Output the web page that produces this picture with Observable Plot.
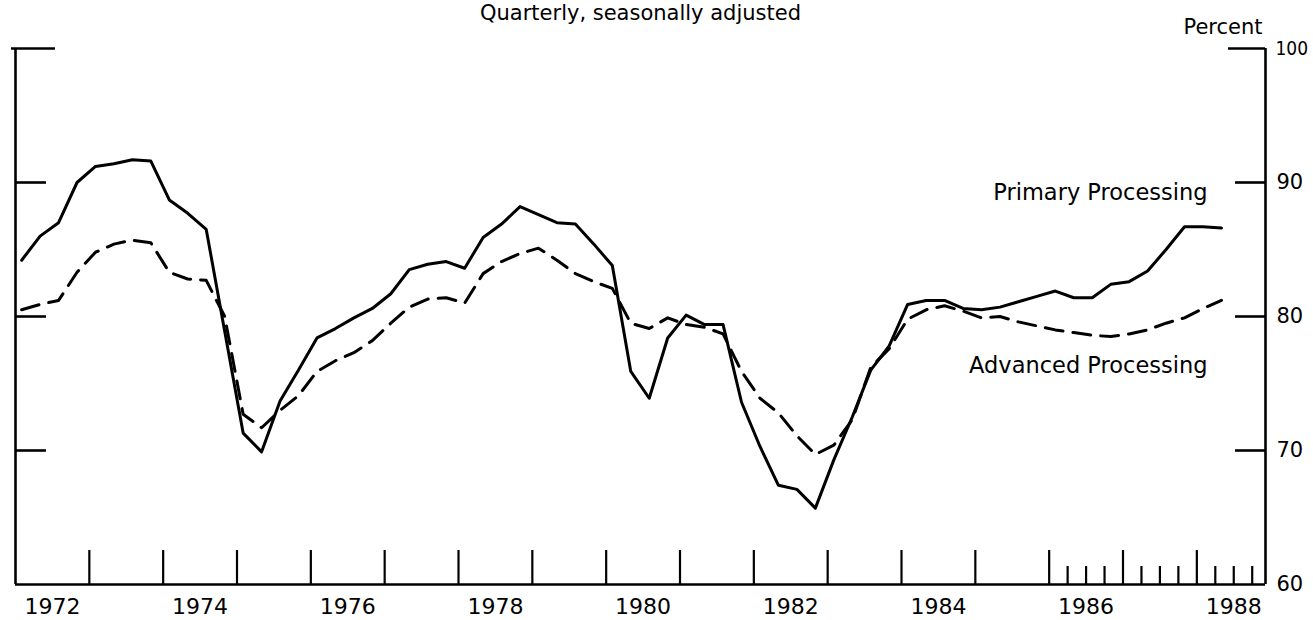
<!DOCTYPE html>
<html><head><meta charset="utf-8">
<script src="https://cdn.jsdelivr.net/npm/d3@7"></script>
<script src="https://cdn.jsdelivr.net/npm/@observablehq/plot@0.6"></script>
<style>body{margin:0;background:#fff;} #chart svg{display:block}</style>
</head><body><div id="chart"></div>
<script>
// Capacity utilization, quarterly, 1972Q1 - 1988Q2 (percent)
const startYear = 1972;
const primary = [
  84.2, 86.0, 87.0, 90.0, 91.2, 91.4, 91.7, 91.6, 88.7, 87.7, 86.5, 78.9,
  71.3, 69.9, 73.7, 76.0, 78.4, 79.1, 79.9, 80.6, 81.7, 83.5, 83.9, 84.1,
  83.6, 85.9, 86.9, 88.2, 87.6, 87.0, 86.9, 85.4, 83.8, 75.9, 73.9, 78.4,
  80.1, 79.4, 79.4, 73.6, 70.3, 67.4, 67.1, 65.7, 69.3, 72.5, 76.0, 77.8,
  80.9, 81.2, 81.2, 80.6, 80.5, 80.7, 81.1, 81.5, 81.9, 81.4, 81.4, 82.4,
  82.6, 83.4, 85.0, 86.7, 86.7, 86.6
];
const advanced = [
  80.5, 80.9, 81.2, 83.3, 84.8, 85.4, 85.7, 85.5, 83.3, 82.8, 82.7, 80.0,
  72.7, 71.7, 73.0, 74.1, 75.9, 76.7, 77.3, 78.2, 79.5, 80.7, 81.3, 81.4,
  81.0, 83.2, 84.1, 84.7, 85.1, 84.2, 83.2, 82.6, 82.1, 79.5, 79.1, 79.9,
  79.4, 79.2, 78.7, 75.9, 73.9, 72.8, 71.1, 69.7, 70.4, 72.3, 76.2, 77.6,
  79.8, 80.5, 80.8, 80.4, 79.9, 80.0, 79.6, 79.3, 79.0, 78.8, 78.6, 78.5,
  78.7, 79.0, 79.5, 79.9, 80.6, 81.2
];
const yearLabels = [1972, 1974, 1976, 1978, 1980, 1982, 1984, 1986, 1988];
const yearTicks = [1973, 1974, 1975, 1976, 1977, 1978, 1979, 1980, 1981, 1982, 1983, 1984, 1985, 1986, 1987, 1988];
const quarterTicks = [1986.25, 1986.5, 1986.75, 1987.25, 1987.5, 1987.75, 1988.25, 1988.5, 1988.75];
const yTickLabels = [90, 80, 70, 60];
const yTopLabel = [100];
const yInnerTicks = [90, 80, 70];
const seriesLabels = [
  {name: "Primary Processing", v: 88.66},
  {name: "Advanced Processing", v: 75.75}
];
const title = "Quarterly, seasonally adjusted";
const unitLabel = "Percent";

// layout
const W = 1313, H = 620;
const mL = 15, mR = 48, mT = 48, mB = 36;
const fw = W - mL - mR, fh = H - mT - mB;
const xEnd = 1988.93;

const when = i => startYear + i / 4 + 1 / 12;
const prim = primary.map((v, i) => ({t: when(i), v}));
const adv = advanced.map((v, i) => ({t: when(i), v}));

const chart = Plot.plot({
  width: W, height: H,
  marginLeft: mL, marginRight: mR, marginTop: mT, marginBottom: mB,
  x: {domain: [startYear, xEnd], axis: null},
  y: {domain: [60, 100], axis: null},
  style: {fontFamily: "DejaVu Sans", color: "#000", background: "#fff"},
  marks: [
    // frame
    Plot.ruleX([startYear, xEnd], {y1: 60, y2: 100, stroke: "#000", strokeWidth: 2.6}),
    Plot.ruleY([60], {stroke: "#000", strokeWidth: 2.6}),
    // left inner ticks
    Plot.tickY(yInnerTicks, {y: d => d, insetRight: fw - 31, stroke: "#000", strokeWidth: 2.6}),
    Plot.tickY([100], {y: d => d, insetLeft: -4, insetRight: fw - 40, stroke: "#000", strokeWidth: 2.6}),
    // right inner ticks
    Plot.tickY(yInnerTicks, {y: d => d, insetLeft: fw - 30, stroke: "#000", strokeWidth: 2.6}),
    Plot.tickY([100], {y: d => d, insetLeft: fw - 37, stroke: "#000", strokeWidth: 2.6}),
    // bottom ticks
    Plot.tickX(yearTicks, {x: d => d, insetTop: fh - 34, stroke: "#000", strokeWidth: 2.2}),
    Plot.tickX(quarterTicks, {x: d => d, insetTop: fh - 18, stroke: "#000", strokeWidth: 2.2}),
    // tick labels
    Plot.text(yearLabels, {x: d => d + 0.5, text: d => String(d), frameAnchor: "bottom", lineAnchor: "bottom", dy: 29, fontSize: 22, fill: "#000"}),
    Plot.text(yTickLabels, {y: d => d, text: d => String(d), frameAnchor: "right", textAnchor: "start", dx: 11, fontSize: 21, fill: "#000"}),
    Plot.text(yTopLabel, {y: d => d, text: d => String(d), frameAnchor: "right", textAnchor: "start", dx: 10, fontSize: 19, fontFamily: "DejaVu Sans Condensed", fill: "#000"}),
    // data lines
    Plot.line(adv, {x: "t", y: "v", stroke: "#000", strokeWidth: 3, strokeDasharray: "18,10", strokeLinejoin: "round"}),
    Plot.line(prim, {x: "t", y: "v", stroke: "#000", strokeWidth: 3, strokeLinejoin: "round"}),
    // series labels
    Plot.text(seriesLabels, {y: "v", text: "name", frameAnchor: "right", textAnchor: "end", lineAnchor: "bottom", dx: -58, fontSize: 22.5, fill: "#000"}),
    // unit and title
    Plot.text([unitLabel], {text: d => d, frameAnchor: "top-right", textAnchor: "end", lineAnchor: "bottom", dx: -3, dy: -15, fontSize: 21, fill: "#000"}),
    Plot.text([title], {text: d => d, frameAnchor: "top", lineAnchor: "bottom", dy: -29, fontSize: 21, fill: "#000"})
  ]
});
document.getElementById("chart").appendChild(chart);
</script>
</body></html>
